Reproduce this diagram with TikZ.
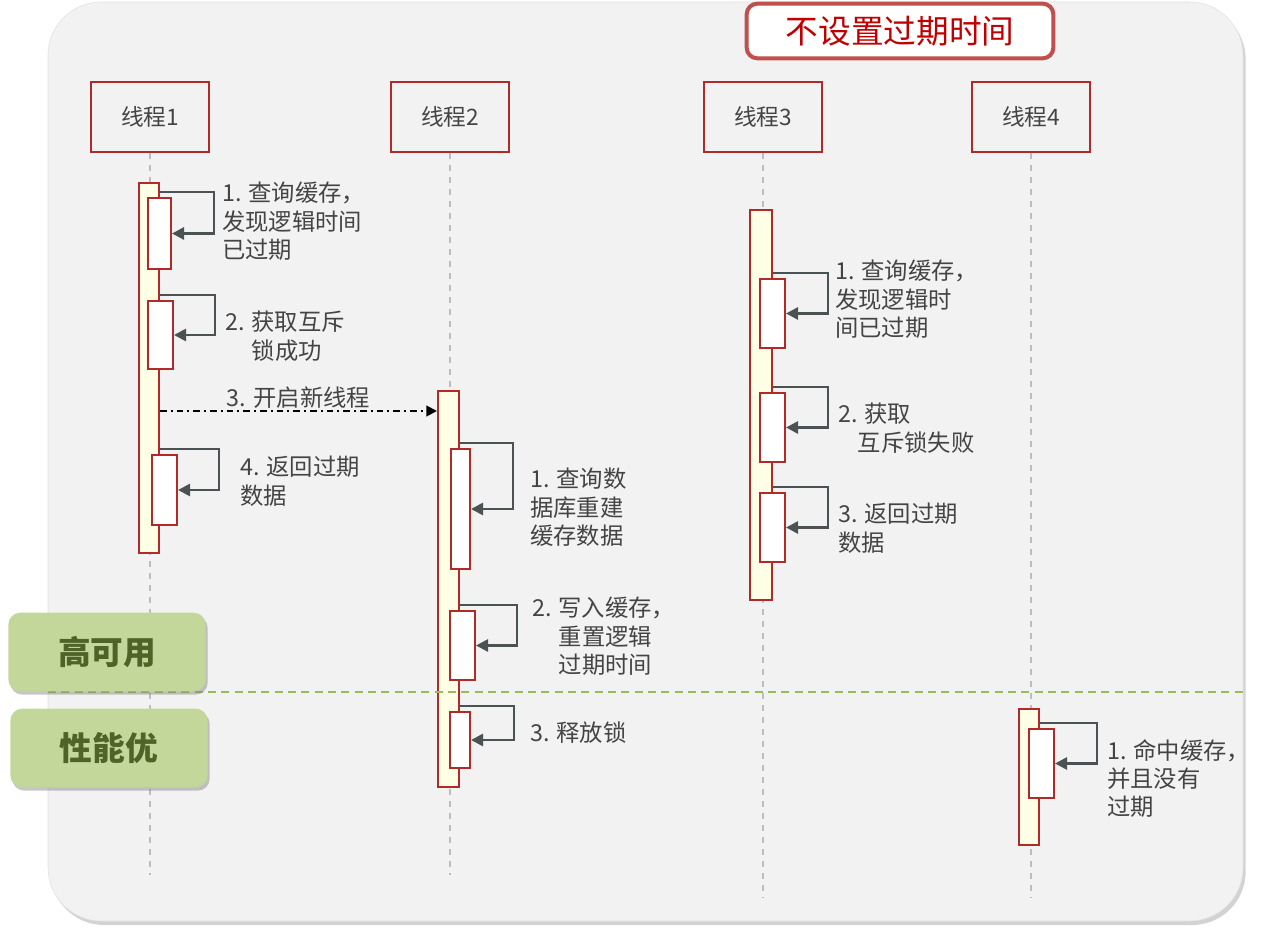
\documentclass[tikz,border=0pt]{standalone}
\usepackage{fontspec}
\setmainfont{Noto Sans CJK SC}
\definecolor{hdred}{HTML}{B02A2A}
\definecolor{ttred}{HTML}{C0504D}
\definecolor{ttink}{HTML}{C00000}
\definecolor{barfill}{HTML}{FFFFE5}
\definecolor{loopgray}{HTML}{4B5254}
\definecolor{ink}{HTML}{444444}
\definecolor{life}{HTML}{BDBDBD}
\definecolor{paper}{HTML}{F2F2F2}
\definecolor{leaf}{HTML}{C4D79B}
\definecolor{leafink}{HTML}{4F6228}
\definecolor{cut}{HTML}{9BBB59}
\usetikzlibrary{arrows.meta, positioning, calc, fit, shadows}
\tikzset{
  head/.style={draw=hdred, line width=1.5pt, minimum width=88pt, minimum height=52pt,
               text=ink, font=\fontsize{17}{20}\selectfont},
  bar/.style={draw=hdred, fill=barfill, line width=1.5pt, inner sep=0pt},
  act/.style={draw=hdred, fill=white, line width=1.5pt, inner sep=0pt},
  selfloop/.style={-{Triangle[length=9pt,width=9pt]}, line width=2pt, color=loopgray},
  spawn/.style={-{Triangle[length=8pt,width=8pt]}, line width=1.5pt,
                dash pattern=on 5pt off 3pt on 1.5pt off 3pt},
  lifeline/.style={line width=1.2pt, color=life, dash pattern=on 5pt off 4pt},
  lbl/.style={anchor=north west, align=left, inner sep=0pt, text=ink,
              font=\fontsize{17.5}{21.2}\selectfont},
}
\begin{document}
\begin{tikzpicture}[x=0.75pt,y=-0.75pt,
tag/.style={fill=leaf,rounded corners=9pt,minimum width=148pt,minimum height=59pt,text=leafink,
  font=\fontsize{24.5}{24}\selectfont\bfseries,drop shadow={shadow xshift=1.5pt,shadow yshift=-2.5pt,opacity=.45}}]
\useasboundingbox (0,0) rectangle (1261,937);
\draw[draw=black!12,fill=paper,rounded corners=40pt,
  drop shadow={shadow xshift=2pt,shadow yshift=-3pt,opacity=.35}] (48,2) rectangle (1243,921);
\node[draw=ttred,line width=3pt,fill=white,rounded corners=8pt,minimum width=230pt,minimum height=41pt,
  text=ttink,font=\fontsize{24.5}{26}\selectfont] (note) at (900,31) {不设置过期时间};
\foreach \i/\x/\e in {1/150/875,2/450/875,3/763/897,4/1031/897}{
\node[head] (h\i) at (\x,117) {线程\i};
\draw[lifeline] (h\i.south) -- (h\i.south |- 0,\e);}
% activation bars
\node[bar,fit={(139,183)(159,553)}] (t1) {};
\node[bar,fit={(438,391)(459,787)}] (t2) {};
\node[bar,fit={(750,210)(772,600)}] (t3) {};
\node[bar,fit={(1019,709)(1039,845)}] (t4) {};
\node[act,fit={(148,198)(171,269)}] (a11) {};
\node[act,fit={(148,301)(173,369)}] (a12) {};
\node[act,fit={(152,455)(177,525)}] (a14) {};
\node[act,fit={(451,449)(470,569)}] (a21) {};
\node[act,fit={(450,611)(475,680)}] (a22) {};
\node[act,fit={(450,712)(470,768)}] (a23) {};
\node[act,fit={(760,279)(785,348)}] (a31) {};
\node[act,fit={(760,393)(785,462)}] (a32) {};
\node[act,fit={(760,493)(785,562)}] (a33) {};
\node[act,fit={(1029,729)(1054,798)}] (a41) {};
\foreach \a/\t/\d in {a11/t1/54,a12/t1/55,a14/t1/59,a21/t2/53,a22/t2/57,a23/t2/54,
  a31/t3/55,a32/t3/55,a33/t3/55,a41/t4/57}
\draw[selfloop] ($(\a.north -| \t.east)+(0,-5)$) -- ++(\d,0) |- (\a.east);
\draw[spawn] ($(t1.east |- t2.north)+(0,21)$) -- ($(t2.north west)+(0,21)$)
  node[midway,above=1pt,inner sep=0pt,text=ink,font=\fontsize{17.5}{20}\selectfont] (go) {3. 开启新线程};
% step texts
\node[lbl] (s11) at (222,182) {1. 查询缓存，\\发现逻辑时间\\已过期};
\node[lbl] (s12) at (225,311) {2. 获取互斥\\\phantom{2. }锁成功};
\node[lbl] (s14) at (240,456) {4. 返回过期\\数据};
\node[lbl] (s21) at (530,468) {1. 查询数\\据库重建\\缓存数据};
\node[lbl] (s22) at (532,597) {2. 写入缓存，\\\phantom{2. }重置逻辑\\\phantom{2. }过期时间};
\node[lbl] (s23) at (530,721) {3. 释放锁};
\node[lbl] (s31) at (835,260) {1. 查询缓存，\\发现逻辑时\\间已过期};
\node[lbl] (s32) at (838,403) {2. 获取\\\phantom{2.}互斥锁失败};
\node[lbl] (s33) at (838,503) {3. 返回过期\\数据};
\node[lbl] (s41) at (1107,739) {1. 命中缓存，\\并且没有\\过期};
\draw[cut,line width=1.2pt,dash pattern=on 6pt off 4pt] (48,692) coordinate (cl) -- (1243,692) coordinate (cr);
\node[tag] (ha) at (107,652) {高可用};
\node[tag] (perf) at (109,748) {性能优};
\end{tikzpicture}
\end{document}
